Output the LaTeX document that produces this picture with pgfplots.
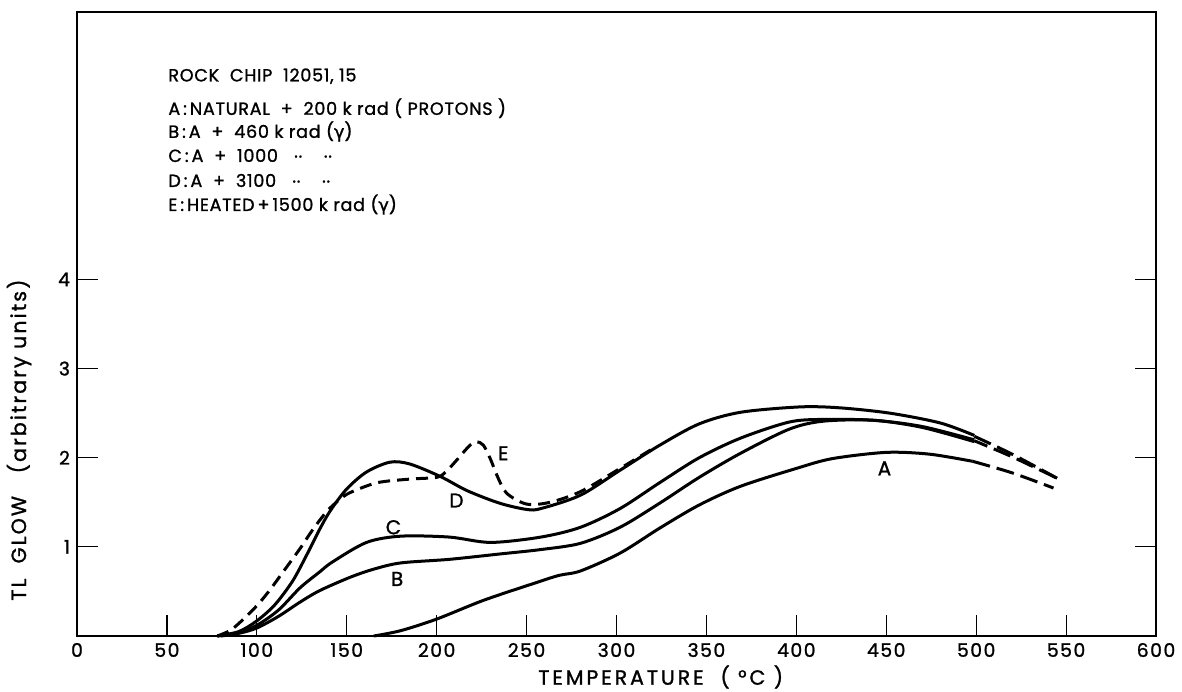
\documentclass[border=0pt]{standalone}
\usepackage{fontspec}
\setmainfont{Poppins}[FakeBold=1.2]
\newfontfamily\gfont{DejaVu Sans}[FakeBold=1.2]
\usepackage{pgfplots}
\pgfplotsset{compat=1.18}
\newcommand{\dit}{\raisebox{0.45ex}{..}}
\begin{document}
\begin{tikzpicture}
\begin{axis}[
 name=ax,
 scale only axis, width=539.5pt, height=312pt,
 xmin=0, xmax=600, ymin=0, ymax=7,
 xtick={0,50,...,600}, ytick={1,2,3,4},
 xtick pos=left, ytick pos=both, yticklabel pos=left,
 tick align=inside, major tick length=10.5pt,
 axis line style={line width=0.6pt},
 tick style={line width=0.6pt, black},
 /pgf/number format/assume math mode=true,
 ticklabel style={font=\fontsize{9.4}{10}\selectfont\addfontfeatures{LetterSpace=8}},
 xlabel={\addfontfeatures{LetterSpace=14}TEMPERATURE\ \ ( °C )},
 ylabel={\addfontfeatures{LetterSpace=10}TL\ \ GLOW\ \ \ (arbitrary units)},
 label style={font=\fontsize{10.3}{11}\selectfont},
 xlabel style={at={(axis description cs:0.541,-0.0657)}, anchor=center},
 ylabel style={at={(axis description cs:-0.0537,0.314)}, anchor=center},
 clip=false,
]
% A
\addplot[black, line width=1.5pt, smooth] coordinates {
(165,0) (180,0.06) (200,0.19) (226,0.40) (254,0.59) (268,0.68) (280,0.73) (302,0.93) (324,1.21) (346,1.47) (369,1.68) (400,1.88) (420,1.99) (450,2.06) (474,2.04) (498,1.96)};
\addplot[black, line width=1.5pt, smooth, dash pattern=on 9pt off 3.5pt] coordinates {
(498,1.96) (520,1.83) (543,1.66)};
% B
\addplot[black, line width=1.5pt, smooth] coordinates {
(80,0) (90,0.03) (100,0.09) (112,0.22) (124,0.38) (135,0.51) (152,0.66) (165,0.75) (180,0.82) (207,0.86) (235,0.92) (258,0.97) (280,1.04) (302,1.22) (324,1.49) (346,1.78) (369,2.05) (396,2.32) (415,2.41) (443,2.42) (470,2.34) (499,2.18)};
% C
\addplot[black, line width=1.5pt, smooth] coordinates {
(78,0) (90,0.04) (100,0.12) (112,0.29) (124,0.54) (135,0.72) (142,0.83) (161,1.05) (180,1.12) (207,1.11) (230,1.05) (258,1.11) (280,1.22) (302,1.43) (324,1.72) (346,2.0) (369,2.22) (396,2.40) (415,2.43) (443,2.42) (470,2.35) (499,2.20)};
% D
\addplot[black, line width=1.5pt, smooth] coordinates {
(78,0) (90,0.05) (100,0.17) (110,0.35) (120,0.62) (128,0.92) (135,1.20) (141,1.41) (150,1.65) (161,1.84) (174,1.95) (185,1.93) (202,1.79) (217,1.63) (235,1.49) (250,1.42) (258,1.43) (280,1.58) (302,1.86) (324,2.14) (346,2.38) (369,2.51) (402,2.57) (424,2.56) (452,2.50) (480,2.39) (499,2.25)};
\addplot[black, line width=1.5pt, smooth, dash pattern=on 9pt off 3.5pt] coordinates {
(499,2.24) (520,2.04) (545,1.77)};
\addplot[black, line width=1.5pt, smooth, dash pattern=on 9pt off 3.5pt, dash phase=2pt] coordinates {
(499,2.19) (520,2.01) (545,1.77)};
% E
\addplot[black, line width=1.5pt, smooth, dash pattern=on 6pt off 3.5pt] coordinates {
(78,0) (85,0.06) (91,0.16) (100,0.34) (107,0.51) (115,0.73) (124,0.98) (131,1.19) (139,1.40) (146,1.53) (152,1.61) (167,1.72) (185,1.76) (200,1.78) (205,1.84) (211,1.97) (218,2.13) (222,2.18) (226,2.14) (230,1.98) (234,1.78) (239,1.60) (250,1.48) (263,1.50) (280,1.62) (302,1.88) (320,2.10)};
% curve labels
\begin{scope}[every node/.style={font=\fontsize{10}{11}\selectfont}]
\node at (axis cs:449,1.88) {A};
\node at (axis cs:178,0.64) {B};
\node at (axis cs:176,1.22) {C};
\node at (axis cs:211,1.52) {D};
\node at (axis cs:237,2.05) {E};
\end{scope}
% text block
\begin{scope}[every node/.style={anchor=west, inner sep=0pt, font=\fontsize{8.8}{10}\selectfont\addfontfeatures{LetterSpace=4}}]
\node at (axis cs:50.6,6.28) {ROCK\ \ CHIP\ \ 12051, 15};
\node at (axis cs:50.6,5.92) {A\,:\,NATURAL\ \ +\ \ 200 k rad ( PROTONS )};
\node at (axis cs:50.6,5.66) {B\,:\,A\ \ +\ \ 460 k rad ({\gfont γ})};
\node at (axis cs:50.6,5.39) {C\,:\,A\ \ +\ \ 1000\ \ \ \dit\ \ \ \ \dit};
\node at (axis cs:50.6,5.11) {D\,:\,A\ \ +\ \ 3100\ \ \ \dit\ \ \ \ \dit};
\node at (axis cs:50.6,4.84) {E\,:\,HEATED\,+\,1500 k rad ({\gfont γ})};
\end{scope}
\end{axis}
\pgfresetboundingbox
\path[use as bounding box] ([shift={(-38.5pt,-27.5pt)}]ax.south west) rectangle ([shift={(13pt,6pt)}]ax.north east);
\end{tikzpicture}
\end{document}
